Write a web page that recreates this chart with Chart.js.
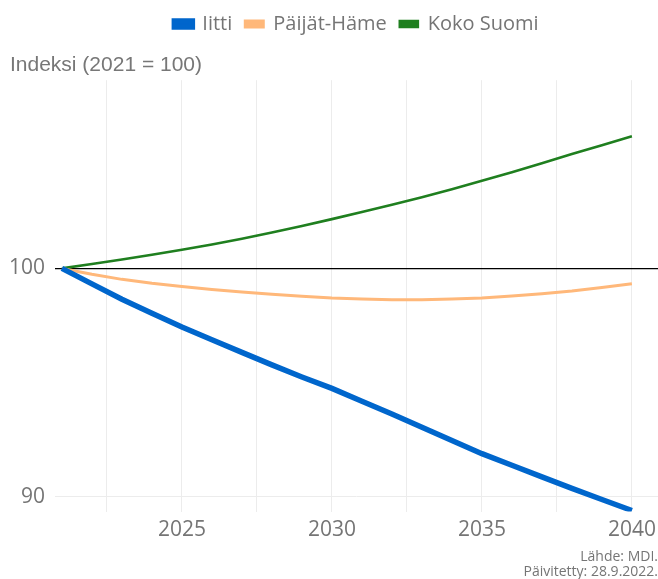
<!DOCTYPE html>
<html>
<head>
<meta charset="utf-8">
<script src="https://cdn.jsdelivr.net/npm/chart.js@4"></script>
<style>
html,body{margin:0;padding:0;background:#fff}
#wrap{width:658px;height:579px}
</style>
</head>
<body>
<div id="wrap"><canvas id="c"></canvas></div>
<script>
// Väestöennuste, indeksi 2021 = 100
const years=[2021,2022,2023,2024,2025,2026,2027,2028,2029,2030,2031,2032,2033,2034,2035,2036,2037,2038,2039,2040];
const iitti=[100,99.32,98.65,98.03,97.43,96.87,96.32,95.77,95.24,94.74,94.18,93.62,93.04,92.46,91.88,91.37,90.86,90.36,89.87,89.39];
const paijatHame=[100,99.74,99.52,99.35,99.21,99.08,98.97,98.87,98.78,98.70,98.66,98.63,98.63,98.66,98.70,98.79,98.89,99.01,99.16,99.33];
const kokoSuomi=[100,100.19,100.39,100.60,100.82,101.05,101.30,101.57,101.86,102.16,102.47,102.79,103.12,103.47,103.84,104.22,104.61,105.01,105.40,105.79];
const xTicks=[2022.5,2025,2027.5,2030,2032.5,2035,2037.5,2040];
const yTicks=[90,100];
const caption=['Lähde: MDI.','Päivitetty: 28.9.2022.'];

const txt='#757575';
const gc='#ececec';
const pts=a=>a.map((v,i)=>({x:years[i],y:v}));

new Chart(document.getElementById('c'),{
  type:'line',
  data:{datasets:[
    {label:'Iitti',data:pts(iitti),borderColor:'#0066cc',backgroundColor:'#0066cc',borderWidth:5.5,pointRadius:0,tension:0},
    {label:'Päijät-Häme',data:pts(paijatHame),borderColor:'#ffb87a',backgroundColor:'#ffb87a',borderWidth:3,pointRadius:0,tension:0},
    {label:'Koko Suomi',data:pts(kokoSuomi),borderColor:'#1f7f1f',backgroundColor:'#1f7f1f',borderWidth:2.6,pointRadius:0,tension:0}
  ]},
  options:{responsive:true,maintainAspectRatio:false,animation:false,
    layout:{padding:{left:10,right:0,top:1,bottom:0}},
    plugins:{
      legend:{position:'top',fullSize:false,weight:3000,
        labels:{color:txt,font:{family:'Open Sans',size:20},boxWidth:18,boxHeight:6,padding:13}},
      title:{display:true,text:'Indeksi (2021 = 100)',align:'start',color:'#777',
        font:{family:'Liberation Sans',size:21,weight:'normal'},padding:{top:8.5,bottom:2.5}},
      subtitle:{display:true,position:'bottom',align:'end',text:caption,color:txt,
        font:{family:'Open Sans',size:14,lineHeight:1.1},padding:{top:0.4,bottom:-1}},
      tooltip:{enabled:false}
    },
    scales:{
      x:{type:'linear',min:2020.77,max:2040.87,
        afterBuildTicks:s=>{s.ticks=xTicks.map(v=>({value:v}))},
        afterFit:s=>{s.paddingLeft=0;s.paddingRight=0},
        grid:{color:gc,drawTicks:false},border:{display:false},
        ticks:{color:txt,font:{family:'Open Sans',size:21},padding:6,maxRotation:0,autoSkip:false,
          callback:v=>v%5===0?String(v):''}},
      y:{min:89.34,max:108.25,
        afterBuildTicks:s=>{s.ticks=yTicks.map(v=>({value:v}))},
        afterFit:s=>{s.width=45},
        grid:{color:c=>c.tick&&c.tick.value===100?'#000':gc,lineWidth:c=>c.tick&&c.tick.value===100?1.3:1,drawTicks:false},
        border:{display:false},
        ticks:{color:txt,font:{family:'Open Sans',size:21},padding:10}}
    }
  }
});
</script>
</body>
</html>
